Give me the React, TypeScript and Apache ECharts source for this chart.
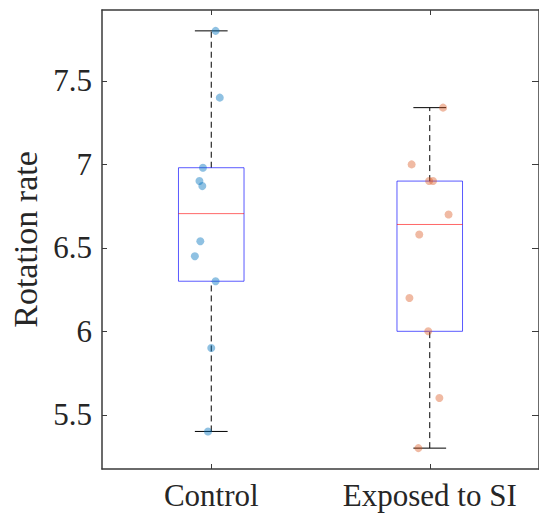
import React, { useEffect, useRef } from 'react';
import * as echarts from 'echarts';

const categories = ['Control', 'Exposed to SI'];
const controlValues = [7.8, 7.4, 6.98, 6.9, 6.87, 6.54, 6.45, 6.3, 5.9, 5.4];
const controlJitterX = [1.02, 1.039, 0.962, 0.946, 0.959, 0.95, 0.925, 1.02, 1.0, 0.985];
const exposedValues = [7.34, 7.0, 6.9, 6.9, 6.7, 6.58, 6.2, 6.0, 5.6, 5.3];
const exposedJitterX = [2.061, 1.917, 1.997, 2.015, 2.086, 1.952, 1.907, 1.993, 2.044, 1.948];
const yTicks = [5.5, 6, 6.5, 7, 7.5];
const yMin = 5.175;
const yMax = 7.925;

function prctile(sorted: number[], p: number): number {
  const n = sorted.length;
  const pos = p * n + 0.5;
  if (pos <= 1) return sorted[0];
  if (pos >= n) return sorted[n - 1];
  const lo = Math.floor(pos);
  const frac = pos - lo;
  return sorted[lo - 1] + frac * (sorted[lo] - sorted[lo - 1]);
}

function boxStats(x: number, values: number[]) {
  const s = [...values].sort((a, b) => a - b);
  const q1 = prctile(s, 0.25);
  const med = prctile(s, 0.5);
  const q3 = prctile(s, 0.75);
  const iqr = q3 - q1;
  const hi = Math.max(...s.filter((v) => v <= q3 + 1.5 * iqr));
  const lo = Math.min(...s.filter((v) => v >= q1 - 1.5 * iqr));
  return [x, lo, q1, med, q3, hi];
}

const FONT = 'Liberation Serif';
const AXIS_COLOR = '#3a3a3a';
const TEXT_COLOR = '#262626';

export default function App() {
  const ref = useRef<HTMLDivElement>(null);
  useEffect(() => {
    if (!ref.current) return;
    const chart = echarts.init(ref.current, null, { renderer: 'svg' });
    const axisLine = { show: true, onZero: false, lineStyle: { color: AXIS_COLOR, width: 1.5 } };
    const tickStyle = { color: AXIS_COLOR, width: 1 };
    const boxData = [boxStats(1, controlValues), boxStats(2, exposedValues)];
    chart.setOption({
      animation: false,
      backgroundColor: '#ffffff',
      textStyle: { fontFamily: FONT },
      grid: { left: 102, top: 10, right: -5, bottom: 52, containLabel: false },
      xAxis: [
        {
          type: 'category',
          data: categories,
          position: 'bottom',
          boundaryGap: true,
          axisLine,
          axisTick: { show: true, inside: true, alignWithLabel: true, length: 5, lineStyle: tickStyle },
          axisLabel: { interval: 0, hideOverlap: false, fontFamily: FONT, fontSize: 31, color: TEXT_COLOR, margin: 11 },
          splitLine: { show: false },
        },
        {
          type: 'category',
          data: categories,
          position: 'top',
          boundaryGap: true,
          axisLine,
          axisTick: { show: true, inside: true, alignWithLabel: true, length: 5, lineStyle: tickStyle },
          axisLabel: { show: false },
          splitLine: { show: false },
        },
        { type: 'value', min: 0.5, max: 2.5, show: false },
      ],
      yAxis: [
        {
          type: 'value',
          min: yMin,
          max: yMax,
          position: 'left',
          name: 'Rotation rate',
          nameLocation: 'middle',
          nameGap: 53,
          nameTextStyle: { fontFamily: FONT, fontSize: 34, color: TEXT_COLOR },
          axisLine,
          axisTick: { show: true, inside: true, length: 5, lineStyle: tickStyle, customValues: yTicks },
          axisLabel: {
            fontFamily: FONT,
            fontSize: 31,
            color: TEXT_COLOR,
            margin: 10,
            hideOverlap: false,
            customValues: yTicks,
            formatter: (v: number) => (yTicks.some((t) => Math.abs(t - v) < 1e-9) ? String(v) : ''),
          },
          splitLine: { show: false },
        },
        {
          type: 'value',
          min: yMin,
          max: yMax,
          position: 'right',
          axisLine,
          axisTick: { show: true, inside: true, length: 7, lineStyle: tickStyle, customValues: yTicks },
          axisLabel: { show: false },
          splitLine: { show: false },
        },
      ],
      series: [
        {
          type: 'custom',
          xAxisIndex: 2,
          yAxisIndex: 0,
          data: boxData,
          encode: { x: 0, y: [1, 2, 3, 4, 5] },
          renderItem: (params: any, api: any) => {
            const x = api.value(0);
            const lo = api.value(1);
            const q1 = api.value(2);
            const med = api.value(3);
            const q3 = api.value(4);
            const hi = api.value(5);
            const halfW = api.size([0.3, 0])[0] / 2;
            const capW = halfW / 2;
            const pLo = api.coord([x, lo]);
            const pQ1 = api.coord([x, q1]);
            const pMed = api.coord([x, med]);
            const pQ3 = api.coord([x, q3]);
            const pHi = api.coord([x, hi]);
            const cx = pLo[0];
            const dash = { stroke: '#000', lineWidth: 1, lineDash: [6, 4] };
            const solid = { stroke: '#000', lineWidth: 1 };
            return {
              type: 'group',
              children: [
                { type: 'line', shape: { x1: cx, y1: pQ3[1], x2: cx, y2: pHi[1] }, style: dash },
                { type: 'line', shape: { x1: cx, y1: pLo[1], x2: cx, y2: pQ1[1] }, style: dash },
                { type: 'line', shape: { x1: cx - capW, y1: pHi[1], x2: cx + capW, y2: pHi[1] }, style: solid },
                { type: 'line', shape: { x1: cx - capW, y1: pLo[1], x2: cx + capW, y2: pLo[1] }, style: solid },
                {
                  type: 'rect',
                  shape: { x: cx - halfW, y: pQ3[1], width: 2 * halfW, height: pQ1[1] - pQ3[1] },
                  style: { fill: 'none', stroke: 'rgba(0,0,255,0.65)', lineWidth: 1 },
                },
                {
                  type: 'line',
                  shape: { x1: cx - halfW, y1: pMed[1], x2: cx + halfW, y2: pMed[1] },
                  style: { stroke: 'rgba(255,0,0,0.6)', lineWidth: 1 },
                },
              ],
            };
          },
          z: 2,
        },
        {
          type: 'scatter',
          xAxisIndex: 2,
          yAxisIndex: 0,
          symbol: 'circle',
          symbolSize: 8,
          data: controlJitterX.map((x, i) => [x, controlValues[i]]),
          itemStyle: { color: 'rgba(0,114,189,0.55)' },
          z: 3,
        },
        {
          type: 'scatter',
          xAxisIndex: 2,
          yAxisIndex: 0,
          symbol: 'circle',
          symbolSize: 8,
          data: exposedJitterX.map((x, i) => [x, exposedValues[i]]),
          itemStyle: { color: 'rgba(217,83,25,0.5)' },
          z: 3,
        },
      ],
    });
    return () => chart.dispose();
  }, []);
  return (
    <div
      ref={ref}
      style={{ position: 'absolute', left: 0, top: 0, width: 539, height: 521, background: '#fff' }}
    />
  );
}
